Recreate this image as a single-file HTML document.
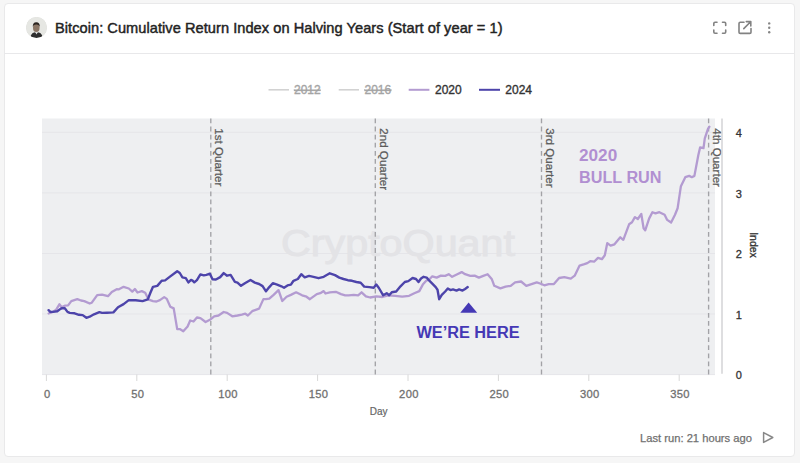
<!DOCTYPE html>
<html><head><meta charset="utf-8"><style>
html,body{margin:0;padding:0;}
body{width:800px;height:463px;background:#f6f6f6;position:relative;overflow:hidden;font-family:"Liberation Sans",sans-serif;}
.card{position:absolute;left:4px;top:2.5px;width:791px;height:454.5px;background:#fff;border:1px solid #e9e9ea;border-radius:4px;box-sizing:border-box;}
.hdr{position:absolute;left:4px;top:52.5px;width:790px;height:1px;background:#e8e8ea;}
.av{position:absolute;left:26.3px;top:17px;width:21px;height:21px;border-radius:50%;background:#dcdcd8;overflow:hidden;}
.title{position:absolute;left:55px;top:19.4px;font-size:14.6px;font-weight:400;color:#232323;white-space:nowrap;line-height:18px;-webkit-text-stroke:0.45px #232323;letter-spacing:0.05px}
svg{position:absolute;left:0;top:0;}
.xl{font-size:11.2px;letter-spacing:0.3px;fill:#707070;stroke:#707070;stroke-width:0.3px;}
.yl{font-size:11px;fill:#333;stroke:#333;stroke-width:0.3px;}
.ql{font-size:11.6px;fill:#5c5c5c;stroke:#5c5c5c;stroke-width:0.25px;}
.lg{font-size:12px;stroke-width:0.35px;}
.foot{position:absolute;left:640px;top:430.8px;font-size:11.2px;color:#707070;-webkit-text-stroke:0.25px #707070;white-space:nowrap;line-height:14px;}
</style></head><body>
<div class="card"></div>
<div class="hdr"></div>
<div class="av"><svg width="21" height="21" viewBox="0 0 21 21"><circle cx="10.5" cy="10.5" r="10.5" fill="#e6e7e3"/><path d="M4.5 19.5 Q5.5 15.8 9 15.2 L10.5 16.5 L12 15.2 Q15.5 15.8 16.5 19.5 Q10.5 22.5 4.5 19.5Z" fill="#2e2e2e"/><ellipse cx="10.3" cy="10.8" rx="3.3" ry="4.3" fill="#8a7565"/><path d="M6.8 10 Q6.5 5.3 10.3 5.2 Q14.1 5.3 13.8 10 Q13.3 7.3 10.3 7.4 Q7.3 7.3 6.8 10Z" fill="#2b2420"/><path d="M9.3 15.3 L10.5 17.5 L11.7 15.3Z" fill="#ddd"/></svg></div>
<div class="title">Bitcoin: Cumulative Return Index on Halving Years (Start of year = 1)</div>
<svg width="800" height="463" viewBox="0 0 800 463">
 <!-- header icons -->
 <g fill="none" stroke="#828282" stroke-width="1.6" stroke-linecap="round" stroke-linejoin="round">
  <path d="M713.8 25.5 V23.5 Q713.8 22.3 715 22.3 H717 M722.5 22.3 H724.5 Q725.7 22.3 725.7 23.5 V25.5 M725.7 30 V32 Q725.7 33.2 724.5 33.2 H722.5 M717 33.2 H715 Q713.8 33.2 713.8 32 V30"/>
  <path d="M744 22.2 H740.2 Q739 22.2 739 23.4 V32.2 Q739 33.4 740.2 33.4 H749.8 Q751 33.4 751 32.2 V28.5"/>
  <path d="M743.8 28.6 L750.6 21.8 M746.3 21.6 H750.8 V26"/>
 </g>
 <g fill="#858585"><circle cx="769.2" cy="23.4" r="1.2"/><circle cx="769.2" cy="27.8" r="1.2"/><circle cx="769.2" cy="32.3" r="1.2"/></g>
 <!-- legend -->
 <g stroke-width="2">
  <line x1="268.5" y1="89.8" x2="289" y2="89.8" stroke="#d2d2d2" stroke-width="1.6"/>
  <line x1="338.7" y1="89.8" x2="359" y2="89.8" stroke="#d2d2d2" stroke-width="1.6"/>
  <line x1="408.7" y1="89.8" x2="429.4" y2="89.8" stroke="#b39bd1"/>
  <line x1="479" y1="89.8" x2="500" y2="89.8" stroke="#4d44aa"/>
 </g>
 <text x="294" y="94" class="lg" fill="#a4a4a4" stroke="#a4a4a4" text-decoration="line-through">2012</text>
 <text x="364.5" y="94" class="lg" fill="#a4a4a4" stroke="#a4a4a4" text-decoration="line-through">2016</text>
 <text x="435" y="94" class="lg" fill="#333" stroke="#333">2020</text>
 <text x="505.3" y="94" class="lg" fill="#333" stroke="#333">2024</text>
 <!-- plot bg -->
 <rect x="42" y="118.5" width="673" height="256.0" fill="#eeeff1"/>
 <line x1="42" y1="374.6" x2="715" y2="374.6" stroke="#e5e5e9" stroke-width="1"/><line x1="42" y1="314.0" x2="715" y2="314.0" stroke="#e5e5e9" stroke-width="1"/><line x1="42" y1="253.5" x2="715" y2="253.5" stroke="#e5e5e9" stroke-width="1"/><line x1="42" y1="192.9" x2="715" y2="192.9" stroke="#e5e5e9" stroke-width="1"/><line x1="42" y1="132.3" x2="715" y2="132.3" stroke="#e5e5e9" stroke-width="1"/>
 <text x="281" y="256.3" font-size="36" fill="#e3e3e6" stroke="#e3e3e6" stroke-width="0.9" textLength="234" lengthAdjust="spacingAndGlyphs">CryptoQuant</text>
 <line x1="210.8" y1="118.5" x2="210.8" y2="374.5" stroke="#a2a2a6" stroke-width="1.35" stroke-dasharray="4.8 3.3"/><text transform="translate(215.4,128.3) rotate(90)" class="ql">1st Quarter</text><line x1="375.3" y1="118.5" x2="375.3" y2="374.5" stroke="#a2a2a6" stroke-width="1.35" stroke-dasharray="4.8 3.3"/><text transform="translate(379.9,128.3) rotate(90)" class="ql">2nd Quarter</text><line x1="541.5" y1="118.5" x2="541.5" y2="374.5" stroke="#a2a2a6" stroke-width="1.35" stroke-dasharray="4.8 3.3"/><text transform="translate(546.1,128.3) rotate(90)" class="ql">3rd Quarter</text><line x1="708.6" y1="118.5" x2="708.6" y2="374.5" stroke="#a2a2a6" stroke-width="1.35" stroke-dasharray="4.8 3.3"/><text transform="translate(713.2,128.3) rotate(90)" class="ql">4th Quarter</text>
 <line x1="722" y1="118.5" x2="722" y2="373.8" stroke="#cdcdd0" stroke-width="1.3"/>
 <line x1="46.4" y1="374.5" x2="46.4" y2="381" stroke="#d8d8d8" stroke-width="1"/><text x="47.3" y="398" text-anchor="middle" class="xl">0</text><line x1="136.8" y1="374.5" x2="136.8" y2="381" stroke="#d8d8d8" stroke-width="1"/><text x="137.7" y="398" text-anchor="middle" class="xl">50</text><line x1="227.2" y1="374.5" x2="227.2" y2="381" stroke="#d8d8d8" stroke-width="1"/><text x="228.1" y="398" text-anchor="middle" class="xl">100</text><line x1="317.6" y1="374.5" x2="317.6" y2="381" stroke="#d8d8d8" stroke-width="1"/><text x="318.5" y="398" text-anchor="middle" class="xl">150</text><line x1="408.0" y1="374.5" x2="408.0" y2="381" stroke="#d8d8d8" stroke-width="1"/><text x="408.9" y="398" text-anchor="middle" class="xl">200</text><line x1="498.4" y1="374.5" x2="498.4" y2="381" stroke="#d8d8d8" stroke-width="1"/><text x="499.3" y="398" text-anchor="middle" class="xl">250</text><line x1="588.8" y1="374.5" x2="588.8" y2="381" stroke="#d8d8d8" stroke-width="1"/><text x="589.7" y="398" text-anchor="middle" class="xl">300</text><line x1="679.2" y1="374.5" x2="679.2" y2="381" stroke="#d8d8d8" stroke-width="1"/><text x="680.1" y="398" text-anchor="middle" class="xl">350</text>
 <text x="738.8" y="379.4" text-anchor="middle" class="yl">0</text><text x="738.8" y="318.8" text-anchor="middle" class="yl">1</text><text x="738.8" y="258.3" text-anchor="middle" class="yl">2</text><text x="738.8" y="197.7" text-anchor="middle" class="yl">3</text><text x="738.8" y="137.1" text-anchor="middle" class="yl">4</text>
 <text x="378.7" y="414.5" text-anchor="middle" font-size="10" fill="#666" stroke="#666" stroke-width="0.2">Day</text>
 <text transform="translate(749.5,245) rotate(90)" text-anchor="middle" font-size="10.5" fill="#333" stroke="#333" stroke-width="0.3">Index</text>
 <polyline points="48.6,313.5 51.9,312.4 56.2,309.7 59.4,304.3 61.6,307.0 64.8,305.7 68.1,305.4 71.3,301.1 77.3,299.2 81.0,300.5 84.3,301.1 89.7,303.5 91.8,302.7 97.2,295.1 102.1,294.6 108.0,296.2 111.8,291.9 116.7,289.2 118.5,289.4 123.6,286.8 128.8,288.5 132.3,291.6 134.9,289.0 137.5,292.5 141.8,291.1 145.2,292.8 148.7,299.7 153.0,301.1 156.5,301.5 159.9,300.1 164.2,297.1 166.8,298.9 170.3,306.7 173.7,308.4 177.2,329.1 179.8,329.1 183.3,331.2 187.6,326.5 190.2,320.5 193.5,321.5 196.9,317.5 200.4,318.1 205.6,322.0 209.9,319.8 214.2,316.3 218.5,315.5 223.7,312.0 227.1,312.9 232.3,316.3 237.5,315.5 241.8,314.6 245.3,313.7 247.9,315.5 252.2,311.2 259.1,308.6 263.4,299.1 266.0,299.1 269.3,298.7 273.6,294.9 278.5,290.1 282.3,301.0 286.6,296.7 290.9,294.9 296.1,292.3 302.1,295.3 306.5,296.7 309.9,299.2 316.8,294.1 320.3,293.2 323.7,291.1 325.5,293.5 329.8,292.3 335.8,291.8 341.0,294.1 345.2,295.3 348.6,295.3 353.8,294.9 358.1,295.3 361.6,292.3 365.9,296.3 370.2,297.5 376.3,296.3 382.3,297.0 388.4,295.3 395.3,295.8 402.2,296.7 409.1,295.8 414.3,293.2 419.3,291.1 422.8,284.6 426.2,280.8 429.7,279.0 432.3,276.3 436.6,277.6 440.9,275.6 445.2,275.9 448.7,274.2 452.1,276.8 457.3,274.2 461.7,272.1 465.1,274.2 470.3,275.9 474.6,275.6 478.9,277.6 483.3,275.9 487.6,274.2 491.7,278.9 494.3,285.8 500.4,288.4 505.6,286.7 510.7,285.8 515.1,282.3 521.1,281.5 526.3,285.8 531.5,284.1 536.7,282.3 540.1,283.5 544.4,285.3 548.7,284.1 553.9,284.1 559.1,278.0 564.3,277.1 570.8,278.6 574.7,275.7 579.6,265.6 584.4,264.1 587.3,263.1 590.2,261.2 594.1,261.7 598.0,257.9 601.9,259.2 604.8,255.3 607.3,243.1 610.6,245.6 614.5,244.3 620.3,237.3 623.3,239.8 629.1,224.3 632.0,222.3 634.9,217.1 637.8,219.0 641.3,214.0 643.6,228.2 645.2,230.3 649.1,218.6 652.4,212.2 655.5,213.4 659.4,212.2 664.6,214.7 667.2,219.9 671.1,222.5 675.0,214.7 677.6,208.3 680.9,186.2 685.3,177.2 689.2,175.9 691.8,177.2 694.4,175.9 698.3,155.2 700.1,147.4 703.5,148.2 704.8,138.3 707.9,129.2 709.4,126.7" fill="none" stroke="#b39bd1" stroke-width="2.3" stroke-linejoin="round" stroke-linecap="round"/>
 <polyline points="48.6,310.2 50.3,311.9 53.0,311.9 57.3,311.3 60.5,308.9 62.1,308.1 64.8,308.3 67.5,311.9 69.7,312.9 74.6,313.3 78.9,314.8 82.7,315.1 86.4,317.8 89.7,316.7 94.0,314.3 99.4,312.2 102.1,312.9 107.0,312.7 113.4,312.4 117.8,307.5 118.5,307.0 123.6,304.1 128.8,300.1 135.7,300.3 142.6,301.1 147.8,299.4 150.4,292.8 153.0,286.8 157.3,285.9 161.7,280.7 165.1,280.4 170.3,276.4 177.2,271.2 179.8,273.0 182.4,277.3 185.8,278.1 188.4,282.5 191.0,279.9 192.6,280.6 194.3,282.3 196.9,280.1 200.4,274.4 203.8,275.4 206.4,274.9 209.9,273.7 212.5,279.2 215.9,279.5 220.2,277.1 223.7,273.1 227.1,275.7 230.6,274.9 234.9,281.8 237.5,282.6 241.0,285.8 245.3,283.0 250.5,280.0 254.8,282.6 259.1,284.0 262.6,286.1 266.0,291.3 269.3,287.1 272.8,283.2 277.1,284.6 281.4,286.3 284.0,287.7 287.5,285.4 290.9,284.6 293.5,280.8 297.8,279.0 301.3,274.2 304.7,277.3 309.1,275.9 313.4,276.8 318.6,278.2 323.7,276.8 329.8,273.3 335.0,275.1 339.3,277.6 343.5,279.0 347.8,280.2 352.1,280.8 356.4,282.0 360.7,282.8 364.2,286.6 369.4,287.1 373.7,287.7 376.3,284.6 378.9,288.0 383.2,295.3 386.7,293.2 389.2,295.3 391.8,292.3 396.2,291.5 400.5,286.3 404.8,282.0 408.3,281.1 412.6,278.0 416.0,279.0 418.5,282.0 421.0,278.5 423.6,276.8 426.7,277.6 428.8,280.2 432.3,283.7 435.7,287.1 437.5,289.7 439.2,299.2 441.8,294.9 445.2,291.5 447.8,288.4 450.4,290.1 453.0,289.4 456.5,290.6 459.1,289.4 462.5,290.6 465.1,288.9 467.7,287.1" fill="none" stroke="#4d44aa" stroke-width="2.4" stroke-linejoin="round" stroke-linecap="round"/>
 <text x="579" y="160.5" font-size="16" font-weight="700" fill="#b18fd1" textLength="38.2" lengthAdjust="spacingAndGlyphs">2020</text>
 <text x="579" y="182.7" font-size="16" font-weight="700" fill="#b18fd1" textLength="82.5" lengthAdjust="spacingAndGlyphs">BULL RUN</text>
 <path d="M460.3 312.8 L468.6 302.5 L477.2 312.8Z" fill="#4538b5"/>
 <text x="416.4" y="337.6" font-size="16" font-weight="700" fill="#4538b5" textLength="103.2" lengthAdjust="spacingAndGlyphs">WE’RE HERE</text>
 <path d="M763.6 432.6 L772.8 437.5 L763.6 442.4Z" fill="none" stroke="#888" stroke-width="1.5" stroke-linejoin="round"/>
</svg>
<div class="foot">Last run: 21 hours ago</div>
</body></html>
